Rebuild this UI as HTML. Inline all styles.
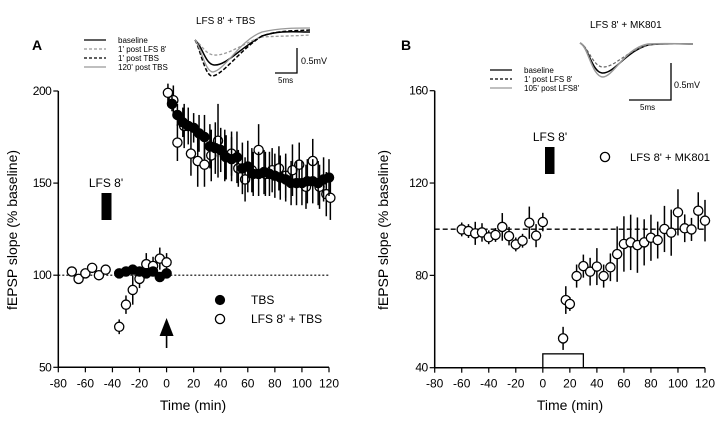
<!DOCTYPE html>
<html><head><meta charset="utf-8">
<style>
html,body{margin:0;padding:0;background:#fff;}
svg{display:block;font-family:"Liberation Sans",Arial,sans-serif;}
</style></head>
<body>
<svg id="fig" width="718" height="423" viewBox="0 0 718 423" xmlns="http://www.w3.org/2000/svg">
<g id="A"></g>
<g id="B"></g>
</svg>
<script>
// ===== Panel A data =====
const aXTicks = [-80,-60,-40,-20,0,20,40,60,80,100,120];
const aYTicks = [50,100,150,200];
const aTbsTime = [-35,-30,-25,-20,-15,-10,-5,0,4,8,12,16,20,24,28,32,36,40,44,48,52,56,60,64,68,72,76,80,84,88,92,96,100,104,108,112,116,120];
const aTbsVal  = [101,102,103,102,101,102,99,101,193,187,183,181,180,177,175,170,169,168,164,163,164,158,159,155,155,156,155,154,153,152,150,150,150,151,151,150,152,153];
const aTbsErr  = [2,2,2,2,2,2,2,2,4,6,8,10,8,10,12,12,14,12,12,12,14,14,14,12,12,12,12,12,12,12,12,12,12,12,12,12,12,10];
const aLfsTime = [-70,-65,-60,-55,-50,-45,-35,-30,-25,-20,-15,-10,-5,0,1,5,8,13,18,23,28,33,38,43,48,53,58,63,68,73,78,83,88,93,98,103,108,113,118,121];
const aLfsVal  = [102,98,101,104,100,103,72,84,92,98,106,105,109,107,199,195,172,181,166,162,160,165,173,165,166,158,152,157,168,155,157,158,154,157,160,148,162,148,144,142];
const aLfsErr  = [2,2,2,2,2,2,4,5,8,5,6,5,6,5,5,8,10,12,12,14,12,14,20,14,12,10,12,12,14,12,12,12,12,14,12,12,12,12,12,12];
// ===== Panel B data =====
const bXTicks = [-80,-60,-40,-20,0,20,40,60,80,100,120];
const bYTicks = [40,80,120,160];
const bTime = [-60,-55,-50,-45,-40,-35,-30,-25,-20,-15,-10,-5,0,15,17,20,25,30,35,40,45,50,55,60,65,70,75,80,85,90,95,100,105,110,115,120];
const bVal  = [99.9,99.2,98.2,98.6,96.5,97.5,101,97,93.4,95,102.8,97.2,103.1,52.7,69.3,67.6,79.7,84,81.6,83.8,79.7,83.5,89.2,93.6,94.3,93.1,94.3,96.3,95.3,100.1,98.5,107.3,100.4,99.9,108,103.7];
const bErr  = [3,3,5,4,3,3,6,4,3,3,7,5,4,5,6,3,5,5,6,8,5,6,12,12,12,12,10,10,8,10,10,10,6,5,8,9];

const NS="http://www.w3.org/2000/svg";
function mk(parent,tag,attrs,name,text){
  const el=document.createElementNS(NS,tag);
  for(const k in attrs) el.setAttribute(k,attrs[k]);
  
  
  if(text!==undefined) el.textContent=text;
  parent.appendChild(el);return el;
}
function axes(g,x0,x1,xmin,xmax,y0,y1,ymin,ymax){
  const sx=v=>x0+(v-xmin)/(xmax-xmin)*(x1-x0);
  const sy=v=>y0-(v-ymin)/(ymax-ymin)*(y0-y1);
  return [sx,sy];
}
function drawAxes(g,sx,sy,xt,yt,xmin,xmax,ymin,ymax){
  mk(g,'line',{x1:sx(xmin),y1:sy(ymin),x2:sx(xmax),y2:sy(ymin),stroke:'#000','stroke-width':1.5},'x-axis');
  mk(g,'line',{x1:sx(xmin),y1:sy(ymin),x2:sx(xmin),y2:sy(ymax),stroke:'#000','stroke-width':1.5},'y-axis');
  xt.forEach(t=>{
    mk(g,'line',{x1:sx(t),y1:sy(ymin),x2:sx(t),y2:sy(ymin)+5,stroke:'#000','stroke-width':1.2},'x-tick');
    mk(g,'text',{x:sx(t),y:sy(ymin)+20,'font-size':12,'text-anchor':'middle'},'x-tick-label',String(t));
  });
  yt.forEach(t=>{
    mk(g,'line',{x1:sx(xmin)-5,y1:sy(t),x2:sx(xmin),y2:sy(t),stroke:'#000','stroke-width':1.2},'y-tick');
    mk(g,'text',{x:sx(xmin)-7,y:sy(t)+4,'font-size':12,'text-anchor':'end','letter-spacing':'-0.5'},'y-tick-label',String(t));
  });
}
function points(g,sx,sy,T,V,E,filled,name){
  T.forEach((t,i)=>{
    mk(g,'line',{x1:sx(t),y1:sy(V[i]-E[i]),x2:sx(t),y2:sy(V[i]+E[i]),stroke:'#000','stroke-width':1.5},name+'-error-bar');
  });
  T.forEach((t,i)=>{
    mk(g,'circle',{cx:sx(t),cy:sy(V[i]),r:4.6,fill:filled?'#000':'#fff',stroke:'#000','stroke-width':1.3},name+'-point');
  });
}
// ---------- Panel A ----------
const gA=document.getElementById('A');
const [ax,ay]=axes(gA,58.3,329,-80,120,367.3,91,50,200);
mk(gA,'line',{x1:ax(-80),y1:ay(100),x2:ax(120),y2:ay(100),stroke:'#000','stroke-width':1.2,'stroke-dasharray':'2,2'},'baseline-dotted-line');
drawAxes(gA,ax,ay,aXTicks,aYTicks,-80,120,50,200);
points(gA,ax,ay,aLfsTime,aLfsVal,aLfsErr,false,'lfs-tbs');
points(gA,ax,ay,aTbsTime,aTbsVal,aTbsErr,true,'tbs');
mk(gA,'text',{x:32,y:50,'font-size':14,'font-weight':'bold'},'panel-a-label','A');
mk(gA,'text',{x:193,y:410,'font-size':14,'text-anchor':'middle'},'x-axis-title','Time (min)');
mk(gA,'text',{x:0,y:0,'font-size':14,'text-anchor':'middle',transform:'translate(17,230) rotate(-90)'},'y-axis-title','fEPSP slope (% baseline)');
mk(gA,'rect',{x:101.5,y:193,width:10,height:27,fill:'#000'},'lfs-bar');
mk(gA,'text',{x:106,y:187,'font-size':12,'text-anchor':'middle'},'lfs-label',"LFS 8'");
mk(gA,'line',{x1:ax(0),y1:348,x2:ax(0),y2:333,stroke:'#000','stroke-width':1.6},'tbs-arrow-shaft');
mk(gA,'polygon',{points:`${ax(0)-7},336 ${ax(0)+7},336 ${ax(0)},318`,fill:'#000'},'tbs-arrow-head');
mk(gA,'circle',{cx:220,cy:300,r:4.6,fill:'#000',stroke:'#000'},'legend-tbs-marker');
mk(gA,'text',{x:251,y:304,'font-size':12},'legend-tbs-label','TBS');
mk(gA,'circle',{cx:220,cy:319,r:4.6,fill:'#fff',stroke:'#000','stroke-width':1.3},'legend-lfs-tbs-marker');
mk(gA,'text',{x:251,y:323,'font-size':12},'legend-lfs-tbs-label',"LFS 8' + TBS");
// inset A
mk(gA,'text',{x:196,y:24,'font-size':10},'inset-a-title',"LFS 8'  + TBS");
const legA=[['baseline','#000',''],["1' post LFS 8'",'#999','3,2'],["1' post TBS",'#000','3,2'],["120' post  TBS",'#999','']];
legA.forEach((l,i)=>{
  mk(gA,'line',{x1:84,y1:40+i*9,x2:106,y2:40+i*9,stroke:l[1],'stroke-width':1.3,'stroke-dasharray':l[2]},'inset-a-legend-line');
  mk(gA,'text',{x:118,y:43+i*9,'font-size':8},'inset-a-legend-label',l[0]);
});
mk(gA,'path',{d:'M195,40 C202,45 205,64 214,65 C226,66 240,48 262,36 C280,30 295,32 310,32',fill:'none',stroke:'#000','stroke-width':1.5},'trace-baseline');
mk(gA,'path',{d:'M195,40 C202,45 205,54 214,55 C228,56 245,42 262,37 C280,36 295,36 310,35',fill:'none',stroke:'#999','stroke-width':1.3,'stroke-dasharray':'3,2'},'trace-post-lfs');
mk(gA,'path',{d:'M195,40 C200,48 205,76 212,76 C222,76 240,50 262,36 C280,30 295,31 310,30',fill:'none',stroke:'#000','stroke-width':1.5,'stroke-dasharray':'4,2'},'trace-post-tbs');
mk(gA,'path',{d:'M195,40 C201,47 205,72 213,72 C225,70 240,40 262,32 C280,28 295,28 310,28',fill:'none',stroke:'#999','stroke-width':1.3},'trace-120-post-tbs');
mk(gA,'path',{d:'M275,73 H297 V48',fill:'none',stroke:'#000','stroke-width':1.3},'inset-a-scale-bar');
mk(gA,'text',{x:301,y:64,'font-size':9},'inset-a-scale-mv','0.5mV');
mk(gA,'text',{x:278,y:83,'font-size':8},'inset-a-scale-ms','5ms');
// ---------- Panel B ----------
const gB=document.getElementById('B');
const [bx,by]=axes(gB,434.7,705,-80,120,367.7,90.7,40,160);
mk(gB,'line',{x1:bx(-80),y1:by(100),x2:bx(120),y2:by(100),stroke:'#000','stroke-width':1.3,'stroke-dasharray':'5,3'},'baseline-dashed-line');
drawAxes(gB,bx,by,bXTicks,bYTicks,-80,120,40,160);
mk(gB,'rect',{x:bx(0),y:by(46),width:bx(30)-bx(0),height:by(40)-by(46),fill:'#fff',stroke:'#000','stroke-width':1.3},'mk801-box');
points(gB,bx,by,bTime,bVal,bErr,false,'mk801');
mk(gB,'text',{x:401,y:50,'font-size':14,'font-weight':'bold'},'panel-b-label','B');
mk(gB,'text',{x:570,y:410,'font-size':14,'text-anchor':'middle'},'x-axis-title','Time (min)');
mk(gB,'text',{x:0,y:0,'font-size':14,'text-anchor':'middle',transform:'translate(388,230) rotate(-90)'},'y-axis-title','fEPSP slope (% baseline)');
mk(gB,'rect',{x:545,y:147,width:9.5,height:27,fill:'#000'},'lfs-bar');
mk(gB,'text',{x:550,y:141,'font-size':12,'text-anchor':'middle'},'lfs-label',"LFS 8'");
mk(gB,'circle',{cx:605,cy:157,r:4.6,fill:'#fff',stroke:'#000','stroke-width':1.3},'legend-mk801-marker');
mk(gB,'text',{x:630,y:161,'font-size':11,textLength:80,lengthAdjust:'spacingAndGlyphs'},'legend-mk801-label',"LFS 8'  + MK801");
mk(gB,'text',{x:590,y:28,'font-size':10},'inset-b-title',"LFS 8'  + MK801");
const legB=[['baseline','#000',''],["1' post LFS 8'",'#000','3,2'],["105' post LFS8'",'#999','']];
legB.forEach((l,i)=>{
  mk(gB,'line',{x1:490,y1:70+i*9,x2:512,y2:70+i*9,stroke:l[1],'stroke-width':1.3,'stroke-dasharray':l[2]},'inset-b-legend-line');
  mk(gB,'text',{x:524,y:73+i*9,'font-size':8},'inset-b-legend-label',l[0]);
});
mk(gB,'path',{d:'M580,43 C588,46 592,72 602,73 C614,74 625,52 648,45 C665,43 680,44 693,44',fill:'none',stroke:'#000','stroke-width':1.5},'trace-baseline');
mk(gB,'path',{d:'M580,43 C588,46 592,65 602,67 C614,68 625,52 648,45 C665,43 680,44 693,44',fill:'none',stroke:'#666','stroke-width':1.2,'stroke-dasharray':'3,2'},'trace-post-lfs');
mk(gB,'path',{d:'M580,43 C588,46 592,77 603,77 C614,76 625,48 648,44 C665,43 680,44 693,44',fill:'none',stroke:'#999','stroke-width':1.5},'trace-105-post-lfs');
mk(gB,'path',{d:'M629,100 H671 V63',fill:'none',stroke:'#000','stroke-width':1.3},'inset-b-scale-bar');
mk(gB,'text',{x:674,y:88,'font-size':9},'inset-b-scale-mv','0.5mV');
mk(gB,'text',{x:640,y:110,'font-size':8},'inset-b-scale-ms','5ms');
</script>
</body></html>
